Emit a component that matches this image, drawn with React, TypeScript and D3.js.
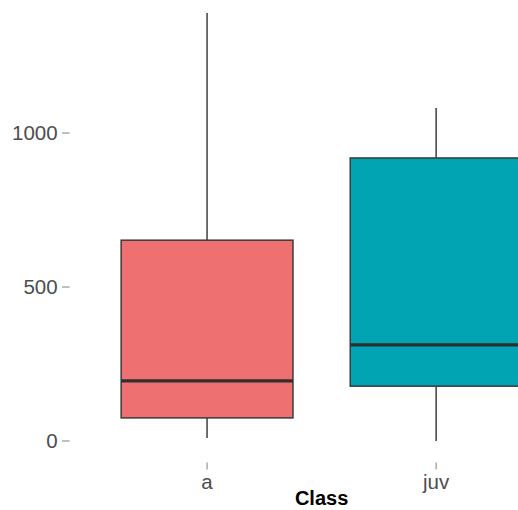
import React from "react";
import * as d3 from "d3";

const categories = ["a", "juv"];
const lowerWhisker = [10, 0];
const q1 = [75, 178];
const median = [195, 312];
const q3 = [652, 919];
const upperWhisker = [1390, 1081];
const fills = ["#EE7071", "#01A4B3"];
const yTicks = [0, 500, 1000];

export default function App() {
  const W = 518, H = 510;
  const panelLeft = 69.6, panelRight = 573.6;
  const panelTop = -8.5, panelBottom = 462.4;
  // discrete scale: centers at 1 and 2, limits [0.4, 2.6]
  const xc = d3.scaleLinear().domain([0.4, 2.6]).range([panelLeft, panelRight]);
  const y = d3.scaleLinear().domain([-69.5, 1459.5]).range([panelBottom, panelTop]);
  const boxW = xc(1.75) - xc(1);
  const font = "'Liberation Sans', Arial, Helvetica, sans-serif";
  return (
    <svg width={W} height={H} style={{ position: "absolute", left: 0, top: 0, background: "#fff" }}>
      {yTicks.map((t) => (
        <g key={t}>
          <line x1={panelLeft - 7.5} x2={panelLeft} y1={y(t)} y2={y(t)} stroke="#8a8a8a" strokeWidth={1.1} />
          <text x={panelLeft - 12} y={y(t)} dy="0.36em" textAnchor="end" fontSize={20.5} fill="#4d4d4d" fontFamily={font}>
            {t}
          </text>
        </g>
      ))}
      {categories.map((c, i) => {
        const cx = xc(i + 1);
        return (
          <g key={c}>
            <line x1={cx} x2={cx} y1={y(q3[i])} y2={y(upperWhisker[i])} stroke="#4a4a4a" strokeWidth={1.6} />
            <line x1={cx} x2={cx} y1={y(q1[i])} y2={y(lowerWhisker[i])} stroke="#4a4a4a" strokeWidth={1.6} />
            <rect x={cx - boxW / 2} y={y(q3[i])} width={boxW} height={y(q1[i]) - y(q3[i])} fill={fills[i]} stroke="#3a3a3a" strokeWidth={1.5} />
            <line x1={cx - boxW / 2} x2={cx + boxW / 2} y1={y(median[i])} y2={y(median[i])} stroke="#2f2f2f" strokeWidth={3.2} />
            <line x1={cx} x2={cx} y1={panelBottom} y2={panelBottom + 7} stroke="#8a8a8a" strokeWidth={1.1} />
            <text x={cx} y={panelBottom + 27} textAnchor="middle" fontSize={20.5} fill="#4d4d4d" fontFamily={font}>
              {c}
            </text>
          </g>
        );
      })}
      <text x={(panelLeft + panelRight) / 2} y={505} textAnchor="middle" fontSize={20} fontWeight="bold" fill="#000" fontFamily={font}>
        Class
      </text>
    </svg>
  );
}
